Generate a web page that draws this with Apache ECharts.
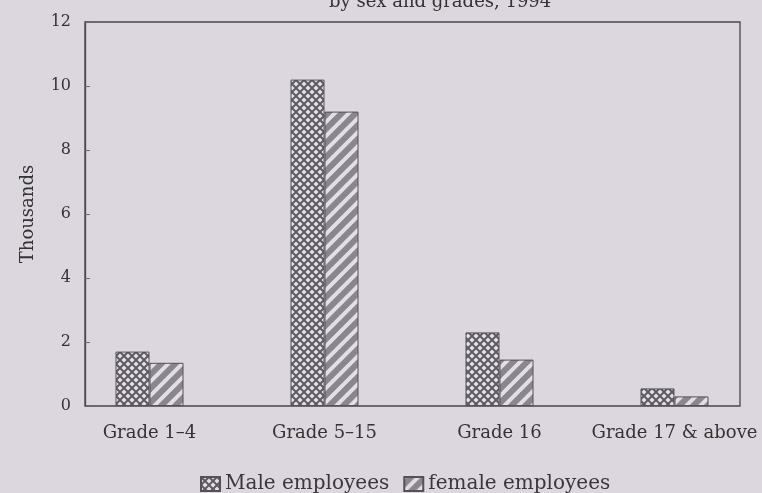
<!DOCTYPE html>
<html>
<head>
<meta charset="utf-8">
<script src="https://cdn.jsdelivr.net/npm/echarts@6/dist/echarts.min.js"></script>
<style>
  html, body { margin: 0; padding: 0; background: #dcd7df; }
  #main { width: 762px; height: 493px; }
</style>
</head>
<body>
<div id="main"></div>
<script>
var categories = ['Grade 1\u20134', 'Grade 5\u201315', 'Grade 16', 'Grade 17 & above'];
var maleValues = [1.7, 10.2, 2.3, 0.55];
var femaleValues = [1.35, 9.2, 1.45, 0.3];
var seriesNames = ['Male employees', 'female employees'];

// cross hatch (diamond lattice) for males
function crossPattern() {
  var c = document.createElement('canvas');
  var s = 8;
  c.width = s; c.height = s;
  var g = c.getContext('2d');
  g.fillStyle = '#e4e0e6';
  g.fillRect(0, 0, s, s);
  g.strokeStyle = '#5e5a62';
  g.lineWidth = 2;
  g.beginPath();
  g.moveTo(-1, -1); g.lineTo(s + 1, s + 1);
  g.moveTo(-1, s + 1); g.lineTo(s + 1, -1);
  g.stroke();
  return c;
}

// diagonal stripes for females
function stripePattern() {
  var c = document.createElement('canvas');
  var s = 14;
  c.width = s; c.height = s;
  var g = c.getContext('2d');
  g.fillStyle = '#8a868e';
  g.fillRect(0, 0, s, s);
  g.strokeStyle = '#e2dee4';
  g.lineWidth = 4;
  g.beginPath();
  for (var k = -2; k <= 2; k++) {
    g.moveTo(k * s - 1, s + 1);
    g.lineTo(k * s + s + 1, -1);
  }
  g.stroke();
  return c;
}

window.onload = function() {
  var font = 'DejaVu Serif';
  var maleFill = { image: crossPattern(), repeat: 'repeat' };
  var femaleFill = { image: stripePattern(), repeat: 'repeat' };

  var option = {
    backgroundColor: '#dcd7df',
    animation: false,
    textStyle: { fontFamily: font },
    title: {
      text: 'by sex and grades, 1994',
      left: 324,
      top: -12,
      textStyle: { fontFamily: font, fontSize: 18, fontWeight: 'normal', color: '#333' }
    },
    legend: {
      top: 469,
      left: 195,
      itemWidth: 19,
      itemHeight: 14,
      itemGap: 14,
      icon: 'rect',
      textStyle: { fontFamily: font, fontSize: 20, color: '#3a363e' },
      data: seriesNames
    },
    grid: [
      { left: 62, width: 700, top: 22, bottom: 87 },
      { left: 85, right: 22, top: 22, bottom: 87, show: true, borderColor: '#4a464e', borderWidth: 1.3, backgroundColor: 'transparent' }
    ],
    xAxis: [
      {
        type: 'category',
        gridIndex: 0,
        data: categories,
        axisLine: { show: false },
        axisTick: { show: false },
        axisLabel: { interval: 0, hideOverlap: false, fontFamily: font, fontSize: 18, color: '#333', margin: 18 }
      },
      { type: 'value', gridIndex: 1, show: false, min: 0, max: 1 }
    ],
    yAxis: [
      { type: 'value', gridIndex: 0, min: 0, max: 12, show: false },
      {
        type: 'value',
        gridIndex: 1,
        min: 0,
        max: 12,
        interval: 2,
        name: 'Thousands',
        nameLocation: 'middle',
        nameGap: 48,
        nameRotate: 90,
        nameTextStyle: { fontFamily: font, fontSize: 18, color: '#333' },
        axisLine: { show: true, lineStyle: { color: '#4a464e', width: 1.3 } },
        axisTick: { show: true, inside: true, length: 5, lineStyle: { color: '#6a666e' } },
        splitLine: { show: false },
        axisLabel: { fontFamily: font, fontSize: 16, color: '#333', margin: 14 }
      }
    ],
    series: [
      {
        name: seriesNames[0],
        type: 'bar',
        xAxisIndex: 0,
        yAxisIndex: 0,
        barWidth: 34,
        barGap: '0%',
        data: maleValues,
        itemStyle: { color: maleFill, borderColor: '#555159', borderWidth: 1 }
      },
      {
        name: seriesNames[1],
        type: 'bar',
        xAxisIndex: 0,
        yAxisIndex: 0,
        barWidth: 34,
        barGap: '0%',
        data: femaleValues,
        itemStyle: { color: femaleFill, borderColor: '#555159', borderWidth: 1 }
      }
    ]
  };
  var chart = echarts.init(document.getElementById('main'));
  chart.setOption(option);
};
</script>
</body>
</html>
